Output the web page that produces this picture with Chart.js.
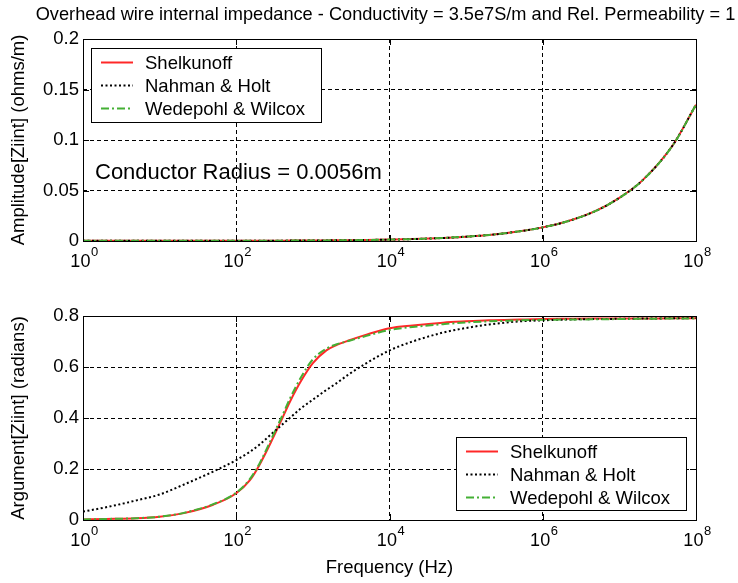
<!DOCTYPE html>
<html lang="en">
<head>
<meta charset="UTF-8">
<title>Overhead wire internal impedance</title>
<script src="https://cdn.jsdelivr.net/npm/chart.js@4.4.1/dist/chart.umd.min.js"></script>
<style>
  body { margin: 0; background: #fff; }
  #wrap { position: relative; width: 738px; height: 583px; }
  canvas { position: absolute; left: 0; }
  #top { top: 0; }
  #bottom { top: 290px; }
</style>
</head>
<body>
<div id="wrap">
  <canvas id="top" width="738" height="290"></canvas>
  <canvas id="bottom" width="738" height="293"></canvas>
</div>
<script>
// frequency points (Hz)
const freq = [1, 2, 5, 10, 20, 50, 100, 150, 200, 300, 400, 500, 700, 1000, 1500, 2000, 3000, 5000,
  1e4, 2e4, 5e4, 1e5, 2e5, 5e5, 1e6, 2e6, 5e6, 1e7, 2e7, 5e7, 1e8];

// amplitude |Ziint| (ohms/m)
const ampShelkunoff = [0.0003, 0.0003, 0.0003, 0.0003, 0.0003, 0.0003, 0.0003, 0.0003, 0.0003, 0.0003, 0.0003, 0.0004, 0.0004, 0.0005,
  0.0006, 0.0007, 0.0008, 0.0010, 0.0014, 0.0019, 0.0030, 0.0043, 0.0060, 0.0096, 0.0135, 0.019, 0.030, 0.0427, 0.060, 0.095, 0.135];
const ampNahman = [0.0003, 0.0003, 0.0003, 0.0003, 0.0003, 0.0003, 0.0003, 0.0003, 0.0003, 0.0003, 0.0003, 0.0004, 0.0004, 0.0005,
  0.0006, 0.0007, 0.0008, 0.0010, 0.0014, 0.0019, 0.0030, 0.0043, 0.0060, 0.0096, 0.0135, 0.019, 0.030, 0.0427, 0.060, 0.095, 0.135];
const ampWedepohl = [0.0003, 0.0003, 0.0003, 0.0003, 0.0003, 0.0003, 0.0003, 0.0003, 0.0003, 0.0003, 0.0003, 0.0004, 0.0004, 0.0005,
  0.0006, 0.0007, 0.0008, 0.0010, 0.0014, 0.0019, 0.0030, 0.0043, 0.0060, 0.0096, 0.0135, 0.019, 0.030, 0.0427, 0.060, 0.095, 0.135];

// argument of Ziint (radians)
const argShelkunoff = [0.002, 0.004, 0.007, 0.013, 0.026, 0.06, 0.105, 0.155, 0.215, 0.32, 0.40, 0.463, 0.545, 0.615,
  0.665, 0.685, 0.705, 0.727, 0.752, 0.763, 0.774, 0.779, 0.783, 0.786, 0.788, 0.789, 0.79, 0.79, 0.79, 0.791, 0.791];
const argNahman = [0.033, 0.05, 0.077, 0.10, 0.137, 0.19, 0.235, 0.267, 0.295, 0.342, 0.375, 0.40, 0.438, 0.472,
  0.51, 0.535, 0.573, 0.615, 0.665, 0.70, 0.735, 0.753, 0.767, 0.779, 0.783, 0.786, 0.788, 0.789, 0.79, 0.791, 0.792];
const argWedepohl = [0.002, 0.004, 0.007, 0.013, 0.027, 0.062, 0.107, 0.16, 0.22, 0.33, 0.41, 0.475, 0.56, 0.63,
  0.672, 0.688, 0.703, 0.722, 0.745, 0.757, 0.768, 0.775, 0.779, 0.783, 0.785, 0.786, 0.787, 0.788, 0.789, 0.79, 0.79];

const seriesNames = ['Shelkunoff', 'Nahman & Holt', 'Wedepohl & Wilcox'];
const xTicks = [1, 1e2, 1e4, 1e6, 1e8];
const ampTicks = [0, 0.05, 0.1, 0.15, 0.2];
const argTicks = [0, 0.2, 0.4, 0.6, 0.8];

const FONT = "'Liberation Sans', Arial, sans-serif";

function pts(ys) {
  return freq.map((f, i) => ({ x: f, y: ys[i] }));
}

// green drawn on top, red below it, like the matlab figure
function makeDatasets(a, b, c) {
  return [
    { label: seriesNames[0], data: pts(a), borderColor: '#ff2828', borderWidth: 2, borderDash: [], order: 3 },
    { label: seriesNames[1], data: pts(b), borderColor: '#000000', borderWidth: 2, borderDash: [2, 2.5], order: 2 },
    { label: seriesNames[2], data: pts(c), borderColor: '#44b035', borderWidth: 2, borderDash: [8, 3, 2, 3], order: 1 }
  ];
}

// box round the plot, inward ticks, 10^n labels, legend, title, text note
const matlabLook = {
  id: 'matlabLook',
  afterDraw(chart, args, opts) {
    const ctx = chart.ctx;
    const a = chart.chartArea;
    const xs = chart.scales.x, ys = chart.scales.y;
    ctx.save();
    ctx.setLineDash([]);
    ctx.strokeStyle = '#000';
    ctx.lineWidth = 1;
    ctx.strokeRect(Math.round(a.left) + 0.5, Math.round(a.top) + 0.5,
      Math.round(a.right - a.left), Math.round(a.bottom - a.top));
    // inward tick marks
    ctx.beginPath();
    xTicks.forEach(v => {
      const px = Math.round(xs.getPixelForValue(v)) + 0.5;
      ctx.moveTo(px, a.bottom); ctx.lineTo(px, a.bottom - 6);
      ctx.moveTo(px, a.top); ctx.lineTo(px, a.top + 6);
    });
    opts.yTicks.forEach(v => {
      const py = Math.round(ys.getPixelForValue(v)) + 0.5;
      ctx.moveTo(a.left, py); ctx.lineTo(a.left + 6, py);
      ctx.moveTo(a.right, py); ctx.lineTo(a.right - 6, py);
    });
    ctx.stroke();

    // x tick labels as 10 with raised exponent
    ctx.fillStyle = '#000';
    ctx.textBaseline = 'alphabetic';
    xTicks.forEach(v => {
      const e = String(Math.round(Math.log10(v)));
      ctx.font = '18px ' + FONT;
      const w1 = ctx.measureText('10').width;
      ctx.font = '13px ' + FONT;
      const w2 = ctx.measureText(e).width;
      const px = xs.getPixelForValue(v);
      const x0 = px - (w1 + w2) / 2 + 1;
      ctx.font = '18px ' + FONT;
      ctx.textAlign = 'left';
      ctx.fillText('10', x0, a.bottom + 26);
      ctx.font = '13px ' + FONT;
      ctx.fillText(e, x0 + w1 + 0.5, a.bottom + 15);
    });

    // title over the plot box
    if (opts.title) {
      ctx.font = '18.2px ' + FONT;
      ctx.textAlign = 'center';
      ctx.textBaseline = 'middle';
      ctx.fillText(opts.title, (a.left + a.right) / 2 - 4, 15);
    }

    // legend box
    const L = opts.legend;
    const lx = L.right != null ? a.right - L.right - L.w : a.left + L.left;
    const ly = L.bottom != null ? a.bottom - L.bottom - L.h : a.top + L.top;
    ctx.fillStyle = '#fff';
    ctx.fillRect(lx, ly, L.w, L.h);
    ctx.strokeStyle = '#000';
    ctx.lineWidth = 1;
    ctx.strokeRect(Math.round(lx) + 0.5, Math.round(ly) + 0.5, L.w, L.h);
    chart.data.datasets.forEach((ds, i) => {
      const ry = Math.round(ly + 14 + i * 22.8) + 0.5;
      ctx.beginPath();
      ctx.setLineDash(ds.borderDash || []);
      ctx.strokeStyle = ds.borderColor;
      ctx.lineWidth = ds.borderWidth;
      ctx.moveTo(lx + 10, ry);
      ctx.lineTo(lx + 42, ry);
      ctx.stroke();
      ctx.setLineDash([]);
      ctx.fillStyle = '#000';
      ctx.font = '18.5px ' + FONT;
      ctx.textAlign = 'left';
      ctx.textBaseline = 'middle';
      ctx.fillText(ds.label, lx + 54, ry + 1);
    });

    if (opts.note) {
      ctx.fillStyle = '#000';
      ctx.font = '22px ' + FONT;
      ctx.textAlign = 'left';
      ctx.textBaseline = 'middle';
      ctx.fillText(opts.note, a.left + 12, a.top + 134);
    }
    ctx.restore();
  }
};

function makeOptions(cfg) {
  return {
    responsive: false,
    animation: false,
    layout: { padding: cfg.padding },
    elements: { point: { radius: 0 }, line: { tension: 0, cubicInterpolationMode: 'monotone' } },
    plugins: {
      legend: { display: false },
      tooltip: { enabled: false },
      title: { display: false },
      matlabLook: { yTicks: cfg.yTicks, legend: cfg.legend, note: cfg.note, title: cfg.title }
    },
    scales: {
      x: {
        type: 'logarithmic', min: 1, max: 1e8,
        afterBuildTicks: s => { s.ticks = xTicks.map(v => ({ value: v })); },
        afterFit: s => { s.height = cfg.xHeight; },
        ticks: { display: false },
        grid: { color: '#000', lineWidth: 1, drawTicks: false },
        border: { display: false, dash: [4, 3] },
        title: cfg.xTitle ? {
          display: true, text: cfg.xTitle, color: '#000',
          font: { family: FONT, size: 18.5 }, padding: { top: 0, bottom: 4 }
        } : { display: false }
      },
      y: {
        min: cfg.yTicks[0], max: cfg.yTicks[cfg.yTicks.length - 1],
        afterBuildTicks: s => { s.ticks = cfg.yTicks.map(v => ({ value: v })); },
        afterFit: s => { s.width = 83; },
        ticks: {
          color: '#000', padding: 4,
          font: { family: FONT, size: 18.5 },
          callback: v => String(+Number(v).toFixed(2))
        },
        grid: { color: '#000', lineWidth: 1, drawTicks: false },
        border: { display: false, dash: [4, 3] },
        title: {
          display: true, text: cfg.yTitle, color: '#000',
          font: { family: FONT, size: 18.5 }, padding: { top: 8, bottom: 0 }
        }
      }
    }
  };
}

new Chart(document.getElementById('top'), {
  type: 'line',
  data: { datasets: makeDatasets(ampShelkunoff, ampNahman, ampWedepohl) },
  options: makeOptions({
    title: 'Overhead wire internal impedance - Conductivity = 3.5e7S/m and Rel. Permeability = 1',
    padding: { left: 0, right: 42, top: 39, bottom: 0 },
    xHeight: 49,
    yTicks: ampTicks,
    yTitle: 'Amplitude[Ziint] (ohms/m)',
    legend: { left: 8, top: 9, w: 230, h: 74 },
    note: 'Conductor Radius = 0.0056m'
  }),
  plugins: [matlabLook]
});

new Chart(document.getElementById('bottom'), {
  type: 'line',
  data: { datasets: makeDatasets(argShelkunoff, argNahman, argWedepohl) },
  options: makeOptions({
    padding: { left: 0, right: 42, top: 26, bottom: 0 },
    xHeight: 63,
    xTitle: 'Frequency (Hz)',
    yTicks: argTicks,
    yTitle: 'Argument[Ziint] (radians)',
    legend: { right: 10, bottom: 10, w: 230, h: 73 }
  }),
  plugins: [matlabLook]
});
</script>
</body>
</html>
